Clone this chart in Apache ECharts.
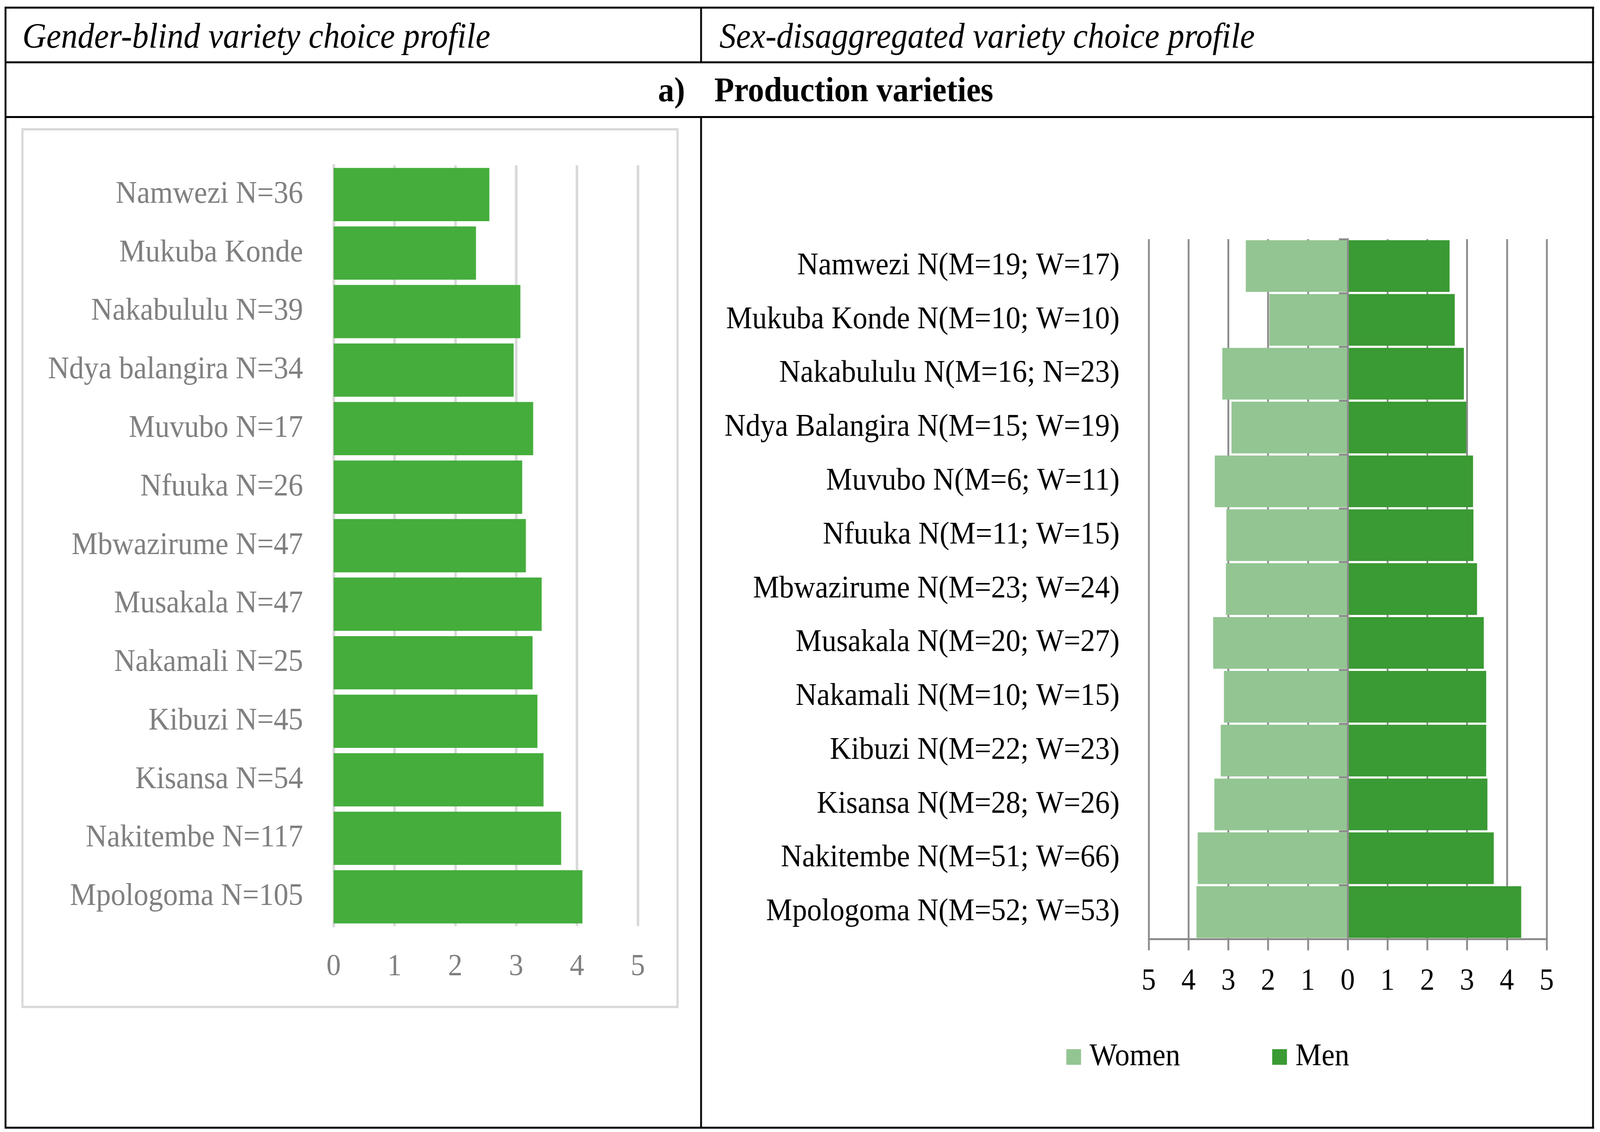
<!DOCTYPE html>
<html><head><meta charset="utf-8">
<script src="https://cdn.jsdelivr.net/npm/echarts@6/dist/echarts.min.js"></script>
<style>html,body{margin:0;padding:0;background:#fff;overflow:hidden}#c{position:absolute;left:0;top:0;width:4350px;height:2897px;transform-origin:0 0}</style>
</head><body><div id="c"></div>
<script>
// ---- data ----
const leftCategories = ['Namwezi N=36','Mukuba Konde','Nakabululu N=39','Ndya balangira N=34','Muvubo N=17','Nfuuka N=26','Mbwazirume N=47','Musakala N=47','Nakamali N=25','Kibuzi N=45','Kisansa N=54','Nakitembe N=117','Mpologoma N=105'];
const overallScores = [2.56,2.34,3.07,2.96,3.28,3.10,3.16,3.42,3.27,3.35,3.45,3.74,4.09];
const rightCategories = ['Namwezi N(M=19; W=17)','Mukuba Konde N(M=10; W=10)','Nakabululu N(M=16; N=23)','Ndya Balangira N(M=15; W=19)','Muvubo N(M=6; W=11)','Nfuuka N(M=11; W=15)','Mbwazirume N(M=23; W=24)','Musakala N(M=20; W=27)','Nakamali N(M=10; W=15)','Kibuzi N(M=22; W=23)','Kisansa N(M=28; W=26)','Nakitembe N(M=51; W=66)','Mpologoma N(M=52; W=53)'];
const womenScores = [2.56,1.97,3.15,2.92,3.34,3.05,3.06,3.38,3.11,3.19,3.35,3.77,3.80];
const menScores = [2.56,2.69,2.92,2.98,3.15,3.16,3.25,3.42,3.48,3.48,3.51,3.67,4.36];
const headerLeft = 'Gender-blind variety choice profile';
const headerRight = 'Sex-disaggregated variety choice profile';
const sectionNum = 'a)';
const sectionTitle = 'Production varieties';

// ---- fit the 4350 x 2897 design to the actual window ----
const W0 = 4350, H0 = 2897;
const el = document.getElementById('c');
const sx = (window.innerWidth || W0) / W0, sy = (window.innerHeight || H0) / H0;
el.style.transform = 'scale(' + sx + ',' + sy + ')';

const FONT = "'Liberation Serif', 'DejaVu Serif', serif";
const chart = echarts.init(el, null, {renderer:'canvas', width:W0, height:H0});

function hline(x1,x2,y){return {type:'line',shape:{x1:x1,y1:y,x2:x2,y2:y},style:{stroke:'#000',lineWidth:5}};}
function vline(x,y1,y2){return {type:'line',shape:{x1:x,y1:y1,x2:x,y2:y2},style:{stroke:'#000',lineWidth:5}};}
function txt(str,x,y,style,weight,size){return {type:'text',x:x,y:y,style:{text:str,font:style+' '+weight+' '+size+"px 'Liberation Serif'",fill:'#000',verticalAlign:'middle',align:'left'}};}

const option = {
  backgroundColor:'#fff',
  animation:false,
  textStyle:{fontFamily:FONT},
  grid:[
    {left:907, top:423, width:827, height:1947},
    {left:3123, top:612, width:1082, height:1791}
  ],
  xAxis:[
    {gridIndex:0, type:'value', min:0, max:5, interval:1,
     axisLine:{show:false}, axisTick:{show:false},
     splitLine:{show:true, lineStyle:{color:'#d9d9d9', width:7}},
     axisLabel:{color:'#7f7f7f', fontSize:78, margin:66, fontFamily:FONT}},
    {gridIndex:1, type:'value', min:-5, max:5, interval:1,
     axisLine:{show:true, onZero:false, lineStyle:{color:'#8c8c8c', width:5}},
     axisTick:{show:true, length:29, lineStyle:{color:'#8c8c8c', width:5}},
     splitLine:{show:true, lineStyle:{color:'#8c8c8c', width:5}},
     axisLabel:{color:'#000', fontSize:78, margin:70, fontFamily:FONT, formatter:function(v){return Math.abs(v);}}}
  ],
  yAxis:[
    {gridIndex:0, type:'category', inverse:true, data:leftCategories,
     axisLine:{show:true, onZero:false, lineStyle:{color:'#d9d9d9', width:7}}, axisTick:{show:false},
     axisLabel:{color:'#7f7f7f', fontSize:80, margin:83, fontFamily:FONT}},
    {gridIndex:1, type:'category', inverse:true, data:rightCategories,
     axisLine:{show:false, onZero:false}, axisTick:{show:false},
     axisLabel:{color:'#000', fontSize:80, margin:79, fontFamily:FONT}},
    {gridIndex:1, type:'category', inverse:true, data:rightCategories, position:'right',
     axisLine:{show:true, onZero:true, lineStyle:{color:'#8c8c8c', width:5}},
     axisTick:{show:true, inside:true, length:24, lineStyle:{color:'#8c8c8c', width:5}},
     axisLabel:{show:false}, z:5}
  ],
  legend:{data:['Women','Men'], left:2894, top:2660, itemWidth:40, itemHeight:40, itemGap:250, icon:'rect',
    textStyle:{fontSize:80, color:'#000', fontFamily:FONT, padding:[0,0,0,18]}},
  series:[
    {type:'bar', xAxisIndex:0, yAxisIndex:0, data:overallScores, barCategoryGap:'9%', itemStyle:{color:'#45ad3c'}},
    {name:'Women', type:'bar', xAxisIndex:1, yAxisIndex:1, data:womenScores.map(function(v){return -v;}), barGap:'-100%', barCategoryGap:'4%', itemStyle:{color:'#93c592'}},
    {name:'Men', type:'bar', xAxisIndex:1, yAxisIndex:1, data:menScores, barGap:'-100%', barCategoryGap:'4%', itemStyle:{color:'#3a9a33'}}
  ],
  graphic:[
    {type:'rect', shape:{x:61, y:331, width:1781, height:2246}, style:{fill:'none', stroke:'#d9d9d9', lineWidth:6}, z:-1},
    hline(13,4334,19.5), hline(13,4334,159.5), hline(13,4334,299.5), hline(13,4334,2886),
    vline(15,17,2888), vline(4331,17,2888), vline(1906,19,160), vline(1906,299,2886),
    txt(headerLeft, 61, 98, 'italic', 'normal', 90),
    txt(headerRight, 1956, 98, 'italic', 'normal', 90),
    txt(sectionNum, 1789, 236, 'normal', 'bold', 88),
    txt(sectionTitle, 1942, 236, 'normal', 'bold', 88)
  ]
};
chart.setOption(option);
</script></body></html>
